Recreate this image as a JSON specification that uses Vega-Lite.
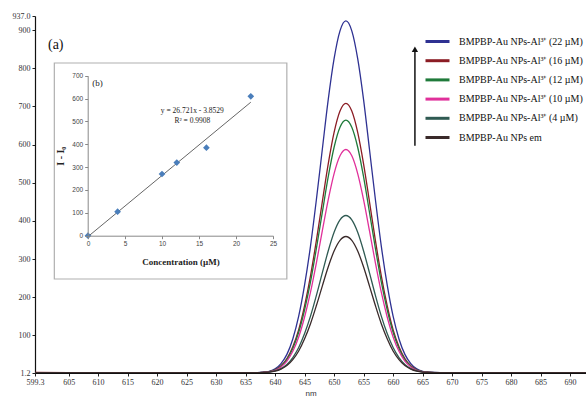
{
  "$schema": "https://vega.github.io/schema/vega-lite/v6.json",
  "width": 551,
  "height": 357,
  "autosize": {"type": "none"},
  "padding": {"left": 35, "top": 16, "right": 0, "bottom": 27},
  "background": "white",
  "config": {
    "view": {"stroke": null},
    "axis": {"grid": false, "zindex": 1, "labelFont": "Liberation Sans Narrow", "titleFont": "Liberation Sans"}
  },
  "layer": [
    {
      "data": {"values": [
        {"x": 599.3, "22": 2, "16": 2.5, "12": 1.8, "10": 2.2, "4": 2, "em": 2.4},
        {"x": 605, "22": 2.2, "16": 2, "12": 2.3, "10": 1.9, "4": 2.1, "em": 2},
        {"x": 612, "22": 2, "16": 2.2, "12": 2, "10": 2.3, "4": 2, "em": 2.1},
        {"x": 620, "22": 2.1, "16": 2, "12": 2.2, "10": 2, "4": 2.3, "em": 2},
        {"x": 628, "22": 2, "16": 2.1, "12": 2, "10": 2.2, "4": 2, "em": 2.2},
        {"x": 634, "22": 2.2, "16": 2, "12": 2.1, "10": 2, "4": 2.1, "em": 2},
        {"x": 637, "22": 2.2, "16": 2.2, "12": 2.1, "10": 2.1, "4": 2, "em": 2},
        {"x": 638, "22": 3.4, "16": 3.1, "12": 3, "10": 2.9, "4": 2.6, "em": 2.5},
        {"x": 639, "22": 5.7, "16": 4.8, "12": 4.6, "10": 4.3, "4": 3.6, "em": 3.4},
        {"x": 640, "22": 12, "16": 9.8, "12": 9.3, "10": 8.4, "4": 6.5, "em": 5.9},
        {"x": 641, "22": 26, "16": 20, "12": 19.2, "10": 17.2, "4": 12.7, "em": 11.3},
        {"x": 642, "22": 50, "16": 39, "12": 36.4, "10": 32.4, "4": 23.4, "em": 20.6},
        {"x": 643, "22": 90.5, "16": 70, "12": 65.6, "10": 58, "4": 41.6, "em": 36.3},
        {"x": 644, "22": 150, "16": 115, "12": 108, "10": 95.6, "4": 68, "em": 59},
        {"x": 645, "22": 232, "16": 178, "12": 167, "10": 148, "4": 104.6, "em": 91},
        {"x": 646, "22": 334, "16": 256, "12": 240, "10": 213, "4": 150.3, "em": 130.5},
        {"x": 647, "22": 456, "16": 349, "12": 328, "10": 290, "4": 204.7, "em": 178},
        {"x": 648, "22": 587, "16": 450, "12": 422, "10": 373.5, "4": 263.6, "em": 229},
        {"x": 649, "22": 717, "16": 549, "12": 515, "10": 455, "4": 321, "em": 279},
        {"x": 650, "22": 825, "16": 632, "12": 593, "10": 524, "4": 370, "em": 321},
        {"x": 651, "22": 898, "16": 688, "12": 645.5, "10": 570.6, "4": 402.5, "em": 349},
        {"x": 652, "22": 924, "16": 708, "12": 664, "10": 587, "4": 414, "em": 359},
        {"x": 653, "22": 898, "16": 688, "12": 645.5, "10": 570.6, "4": 402.5, "em": 349},
        {"x": 654, "22": 825, "16": 632, "12": 593, "10": 524, "4": 370, "em": 321},
        {"x": 655, "22": 717, "16": 549, "12": 515, "10": 455, "4": 321, "em": 279},
        {"x": 656, "22": 587, "16": 450, "12": 422, "10": 373.5, "4": 263.6, "em": 229},
        {"x": 657, "22": 456, "16": 349, "12": 328, "10": 290, "4": 204.7, "em": 178},
        {"x": 658, "22": 334, "16": 256, "12": 240, "10": 213, "4": 150.3, "em": 130.5},
        {"x": 659, "22": 232, "16": 178, "12": 167, "10": 148, "4": 104.6, "em": 91},
        {"x": 660, "22": 150, "16": 115, "12": 108, "10": 95.6, "4": 68, "em": 59},
        {"x": 661, "22": 90.5, "16": 70, "12": 65.6, "10": 58, "4": 41.6, "em": 36.3},
        {"x": 662, "22": 50, "16": 39, "12": 36.4, "10": 32.4, "4": 23.4, "em": 20.6},
        {"x": 663, "22": 26, "16": 20, "12": 19.2, "10": 17.2, "4": 12.7, "em": 11.3},
        {"x": 664, "22": 12, "16": 9.8, "12": 9.3, "10": 8.4, "4": 6.5, "em": 5.9},
        {"x": 665, "22": 5.7, "16": 4.8, "12": 4.6, "10": 4.3, "4": 3.6, "em": 3.4},
        {"x": 666, "22": 3.4, "16": 3.1, "12": 3, "10": 2.9, "4": 2.6, "em": 2.5},
        {"x": 668, "22": 2.1, "16": 2.2, "12": 2, "10": 2.3, "4": 2, "em": 2.1},
        {"x": 675, "22": 2, "16": 2.1, "12": 2.2, "10": 2, "4": 2.1, "em": 2},
        {"x": 683, "22": 2.2, "16": 2, "12": 2, "10": 2.2, "4": 2, "em": 2.1},
        {"x": 692.7, "22": 2, "16": 2.1, "12": 2, "10": 2.1, "4": 2.2, "em": 2}
      ]},
      "transform": [{"fold": ["22", "16", "12", "10", "4", "em"], "as": ["series", "value"]}],
      "mark": {"type": "line", "strokeWidth": 1.3, "interpolate": "monotone", "clip": true},
      "encoding": {
        "x": {
          "field": "x", "type": "quantitative",
          "scale": {"domain": [599.3, 692.7], "nice": false, "zero": false},
          "axis": {
            "orient": "bottom",
            "title": "nm", "titleFontSize": 8, "titleFontWeight": "normal", "titlePadding": 3, "titleColor": "#333",
            "values": [599.3, 605, 610, 615, 620, 625, 630, 635, 640, 645, 650, 655, 660, 665, 670, 675, 680, 685, 690],
            "labelExpr": "datum.value == 599.3 ? '599.3' : format(datum.value, 'd')",
            "labelFontSize": 8, "labelColor": "#333", "labelOverlap": false, "labelFlush": false,
            "tickSize": 3, "tickColor": "#222", "domainColor": "#111", "domainWidth": 1.2
          }
        },
        "y": {
          "field": "value", "type": "quantitative",
          "scale": {"domain": [1.2, 937], "nice": false, "zero": false},
          "axis": {
            "orient": "left",
            "title": null,
            "values": [1.2, 100, 200, 300, 400, 500, 600, 700, 800, 900, 937],
            "labelExpr": "(datum.value == 1.2 || datum.value == 937) ? format(datum.value, '.1f') : format(datum.value, 'd')",
            "labelFontSize": 8, "labelColor": "#333", "labelOverlap": false, "labelFlush": false,
            "tickSize": 3, "tickColor": "#222", "domainColor": "#111", "domainWidth": 1.2
          }
        },
        "color": {
          "field": "series", "type": "nominal",
          "scale": {"domain": ["22", "16", "12", "10", "4", "em"], "range": ["#2e3192", "#8b1c24", "#1f7a3a", "#e0309a", "#2f5a52", "#3a2a2a"]},
          "legend": {
            "title": null, "orient": "none", "legendX": 395, "legendY": 18,
            "symbolType": "M-2,0L2,0", "symbolSize": 144, "symbolStrokeWidth": 3,
            "labelFont": "Liberation Serif", "labelFontSize": 10, "labelColor": "#111",
            "rowPadding": 5.2, "labelOffset": 14, "labelLimit": 200,
            "labelExpr": "datum.value == 'em' ? 'BMPBP-Au NPs em' : 'BMPBP-Au NPs-Al³⁺ (' + datum.value + ' µM)'"
          }
        }
      }
    },
    {
      "data": {"values": [{}]},
      "mark": {"type": "rule", "color": "#111", "strokeWidth": 1.5},
      "encoding": {
        "x": {"datum": 663.7, "type": "quantitative", "scale": {"domain": [599.3, 692.7], "nice": false, "zero": false}, "axis": null},
        "y": {"datum": 597, "type": "quantitative", "scale": {"domain": [1.2, 937], "nice": false, "zero": false}, "axis": null},
        "y2": {"datum": 845}
      }
    },
    {
      "data": {"values": [{}]},
      "mark": {"type": "point", "shape": "triangle-up", "filled": true, "color": "#111", "size": 40, "opacity": 1},
      "encoding": {
        "x": {"datum": 663.7, "type": "quantitative", "scale": {"domain": [599.3, 692.7], "nice": false, "zero": false}, "axis": null},
        "y": {"datum": 850, "type": "quantitative", "scale": {"domain": [1.2, 937], "nice": false, "zero": false}, "axis": null}
      }
    },
    {
      "data": {"values": [{"t": "(a)"}]},
      "mark": {"type": "text", "font": "Liberation Serif", "fontSize": 14, "align": "left", "baseline": "middle", "color": "#111"},
      "encoding": {
        "x": {"datum": 601.5, "type": "quantitative", "scale": {"domain": [599.3, 692.7], "nice": false, "zero": false}, "axis": null},
        "y": {"datum": 860, "type": "quantitative", "scale": {"domain": [1.2, 937], "nice": false, "zero": false}, "axis": null},
        "text": {"field": "t"}
      }
    },
    {
      "data": {"values": [{}]},
      "mark": {"type": "rect", "fill": "white", "stroke": "#b0b0b0", "strokeWidth": 1.2},
      "encoding": {
        "x": {"datum": -4.55, "type": "quantitative", "scale": {"domain": [0, 25], "range": [53, 238], "nice": false, "zero": false}, "axis": null},
        "x2": {"datum": 26.87},
        "y": {"datum": 755.5, "type": "quantitative", "scale": {"domain": [0, 700], "range": [219.7, 59.7], "nice": false, "zero": false}, "axis": null},
        "y2": {"datum": -189.4}
      }
    },
    {
      "data": {"values": [{}]},
      "mark": {"type": "rule", "color": "#666", "strokeWidth": 1},
      "encoding": {
        "x": {"datum": 0, "type": "quantitative", "scale": {"domain": [0, 25], "range": [53, 238], "nice": false, "zero": false}, "axis": null},
        "x2": {"datum": 22},
        "y": {"datum": -3.85, "type": "quantitative", "scale": {"domain": [0, 700], "range": [219.7, 59.7], "nice": false, "zero": false}, "axis": null},
        "y2": {"datum": 584}
      }
    },
    {
      "data": {"values": [{"c": 0, "d": 0}, {"c": 4, "d": 105}, {"c": 10, "d": 270}, {"c": 12, "d": 320}, {"c": 16, "d": 385}, {"c": 22, "d": 610}]},
      "mark": {"type": "point", "shape": "diamond", "filled": true, "color": "#4a7ebb", "size": 45, "opacity": 1},
      "encoding": {
        "x": {
          "field": "c", "type": "quantitative",
          "scale": {"domain": [0, 25], "range": [53, 238], "nice": false, "zero": false},
          "axis": {
            "orient": "bottom", "offset": -137.3, "zindex": 2, "title": "Concentration (µM)",
            "titleFont": "Liberation Serif", "titleFontSize": 9, "titleFontWeight": "bold", "titleColor": "#222", "titlePadding": 10,
            "values": [0, 5, 10, 15, 20, 25], "labelFont": "Liberation Sans", "labelFontSize": 6.5, "labelColor": "#444",
            "tickSize": 3, "tickColor": "#888", "domainColor": "#888", "labelFlush": false
          }
        },
        "y": {
          "field": "d", "type": "quantitative",
          "scale": {"domain": [0, 700], "range": [219.7, 59.7], "nice": false, "zero": false},
          "axis": {
            "orient": "left", "offset": -52.7, "zindex": 2, "title": "I - I₀",
            "titleFont": "Liberation Serif", "titleFontSize": 10, "titleFontWeight": "bold", "titleColor": "#222", "titlePadding": 6,
            "values": [0, 100, 200, 300, 400, 500, 600, 700], "labelFont": "Liberation Sans", "labelFontSize": 6.5, "labelColor": "#444",
            "tickSize": 3, "tickColor": "#888", "domainColor": "#888", "labelFlush": false
          }
        }
      }
    },
    {
      "data": {"values": [{"t": "(b)", "c": 1.3, "d": 668, "s": 9}, {"t": "y = 26.721x - 3.8529", "c": 14.1, "d": 545, "s": 7.5}, {"t": "R² = 0.9908", "c": 14.1, "d": 502, "s": 7.5}]},
      "mark": {"type": "text", "font": "Liberation Serif", "baseline": "middle", "color": "#222"},
      "encoding": {
        "x": {"field": "c", "type": "quantitative", "scale": {"domain": [0, 25], "range": [53, 238], "nice": false, "zero": false}, "axis": null},
        "y": {"field": "d", "type": "quantitative", "scale": {"domain": [0, 700], "range": [219.7, 59.7], "nice": false, "zero": false}, "axis": null},
        "text": {"field": "t"},
        "size": {"field": "s", "type": "quantitative", "scale": null, "legend": null},
        "align": {"condition": {"test": "datum.t == '(b)'", "value": "left"}, "value": "center"}
      }
    }
  ],
  "resolve": {
    "scale": {"x": "independent", "y": "independent"},
    "axis": {"x": "independent", "y": "independent"}
  }
}
